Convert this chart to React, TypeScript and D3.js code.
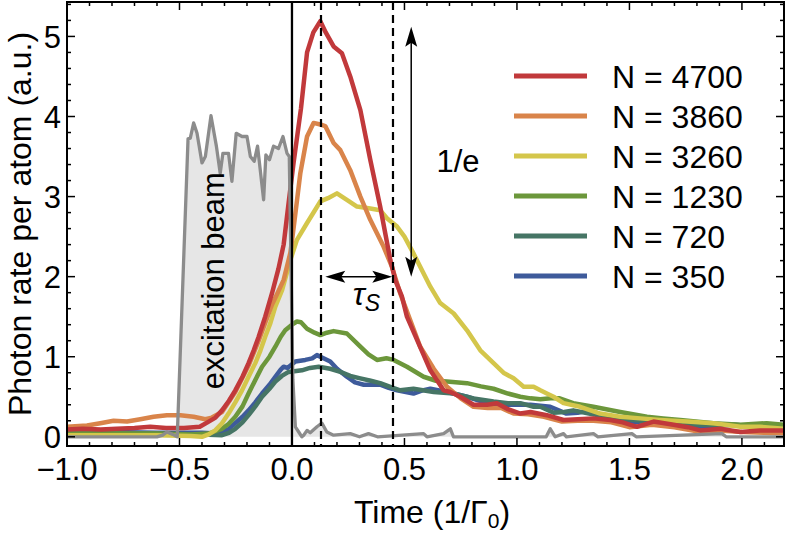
import React from "react";
import * as d3 from "d3";

// ---------- data ----------
const xTicksMajor = [-1.0, -0.5, 0.0, 0.5, 1.0, 1.5, 2.0];
const yTicksMajor = [0, 1, 2, 3, 4, 5];

const seriesNames = ["N = 4700", "N = 3860", "N = 3260", "N = 1230", "N = 720", "N = 350"];
const seriesColors = ["#c1393b", "#d9844a", "#d4c64b", "#6c973b", "#467565", "#3e5b9b"];

const n4700: [number, number][] = [
  [-1.0, 0.09], [-0.93, 0.1], [-0.85, 0.09], [-0.78, 0.1], [-0.7, 0.11], [-0.63, 0.125], [-0.56, 0.11],
  [-0.48, 0.11], [-0.41, 0.125], [-0.37, 0.19], [-0.34, 0.24], [-0.311, 0.33], [-0.28, 0.45], [-0.252, 0.58],
  [-0.22, 0.75], [-0.193, 0.92], [-0.17, 1.08], [-0.148, 1.25], [-0.119, 1.5], [-0.089, 1.79], [-0.06, 2.1],
  [-0.037, 2.4], [-0.015, 2.92], [0.007, 3.42], [0.04, 4.1], [0.067, 4.8], [0.095, 5.05], [0.126, 5.19],
  [0.15, 5.05], [0.185, 4.875], [0.222, 4.79], [0.259, 4.5], [0.304, 4.08], [0.348, 3.46], [0.392, 2.875],
  [0.437, 2.21], [0.46, 1.95], [0.489, 1.75], [0.511, 1.5], [0.556, 1.21], [0.615, 0.83], [0.674, 0.58],
  [0.704, 0.56], [0.748, 0.5], [0.807, 0.4], [0.867, 0.4], [0.911, 0.42], [0.956, 0.35], [1.015, 0.29],
  [1.06, 0.31], [1.133, 0.27], [1.207, 0.21], [1.27, 0.22], [1.34, 0.23], [1.415, 0.21], [1.47, 0.18],
  [1.533, 0.125], [1.607, 0.19], [1.696, 0.15], [1.76, 0.12], [1.815, 0.08], [1.904, 0.1], [1.993, 0.06],
  [2.08, 0.08], [2.19, 0.08],
];

const n3860: [number, number][] = [
  [-1.0, 0.125], [-0.911, 0.14], [-0.852, 0.17], [-0.793, 0.2], [-0.733, 0.19], [-0.674, 0.22], [-0.615, 0.25],
  [-0.556, 0.27], [-0.496, 0.27], [-0.437, 0.25], [-0.385, 0.22], [-0.356, 0.24], [-0.311, 0.31], [-0.252, 0.56],
  [-0.193, 0.89], [-0.148, 1.2], [-0.119, 1.42], [-0.089, 1.65], [-0.06, 1.82], [-0.037, 1.96], [-0.007, 2.3],
  [0.01, 2.67], [0.037, 3.29], [0.067, 3.75], [0.096, 3.92], [0.126, 3.9], [0.148, 3.88], [0.185, 3.67],
  [0.215, 3.58], [0.259, 3.33], [0.304, 3.0], [0.348, 2.71], [0.407, 2.375], [0.444, 2.125], [0.48, 1.8],
  [0.52, 1.5], [0.57, 1.125], [0.63, 0.85], [0.689, 0.625], [0.75, 0.48], [0.807, 0.375], [0.87, 0.36],
  [0.93, 0.36], [0.985, 0.29], [1.05, 0.28], [1.12, 0.25], [1.2, 0.19], [1.27, 0.2], [1.34, 0.2],
  [1.42, 0.18], [1.5, 0.12], [1.6, 0.15], [1.7, 0.12], [1.8, 0.07], [1.9, 0.08], [2.0, 0.06], [2.1, 0.05],
  [2.19, 0.04],
];

const n3260: [number, number][] = [
  [-1.0, 0.02], [-0.8, 0.02], [-0.6, 0.02], [-0.45, 0.01], [-0.4, 0.0], [-0.37, 0.03], [-0.341, 0.08],
  [-0.311, 0.17], [-0.282, 0.29], [-0.252, 0.43], [-0.222, 0.58], [-0.193, 0.75], [-0.163, 0.92], [-0.14, 1.08],
  [-0.119, 1.25], [-0.096, 1.42], [-0.074, 1.625], [-0.044, 1.83], [-0.007, 2.21], [0.022, 2.46], [0.067, 2.67],
  [0.1, 2.82], [0.126, 2.94], [0.16, 2.98], [0.2, 3.04], [0.244, 2.96], [0.289, 2.875], [0.348, 2.85],
  [0.392, 2.83], [0.422, 2.73], [0.467, 2.625], [0.5, 2.5], [0.54, 2.29], [0.615, 1.875], [0.659, 1.67],
  [0.719, 1.54], [0.778, 1.33], [0.837, 1.08], [0.896, 0.92], [0.94, 0.8], [0.985, 0.73], [1.03, 0.625],
  [1.074, 0.625], [1.104, 0.58], [1.133, 0.54], [1.163, 0.5], [1.207, 0.42], [1.281, 0.375], [1.37, 0.29],
  [1.459, 0.25], [1.548, 0.23], [1.637, 0.21], [1.756, 0.19], [1.874, 0.17], [1.993, 0.125], [2.08, 0.125],
  [2.19, 0.1],
];

const n1230: [number, number][] = [
  [-1.0, 0.04], [-0.8, 0.04], [-0.6, 0.04], [-0.45, 0.03], [-0.37, 0.04], [-0.311, 0.1], [-0.282, 0.16],
  [-0.252, 0.25], [-0.22, 0.38], [-0.193, 0.54], [-0.163, 0.71], [-0.133, 0.875], [-0.1, 1.0], [-0.074, 1.125],
  [-0.05, 1.25], [-0.03, 1.33], [0.0, 1.4], [0.022, 1.44], [0.04, 1.43], [0.067, 1.35], [0.1, 1.3],
  [0.126, 1.27], [0.155, 1.3], [0.185, 1.32], [0.244, 1.29], [0.304, 1.125], [0.34, 1.03], [0.378, 0.96],
  [0.42, 0.98], [0.452, 0.96], [0.511, 0.875], [0.585, 0.75], [0.64, 0.7], [0.689, 0.69], [0.778, 0.67],
  [0.84, 0.63], [0.896, 0.6], [0.96, 0.54], [1.015, 0.5], [1.06, 0.48], [1.104, 0.47], [1.15, 0.48],
  [1.19, 0.48], [1.25, 0.42], [1.34, 0.375], [1.459, 0.31], [1.578, 0.25], [1.65, 0.23], [1.726, 0.21],
  [1.874, 0.17], [1.993, 0.15], [2.11, 0.17], [2.19, 0.15],
];

const n720: [number, number][] = [
  [-1.0, 0.04], [-0.8, 0.04], [-0.6, 0.04], [-0.4, 0.03], [-0.311, 0.02], [-0.28, 0.05], [-0.252, 0.1],
  [-0.22, 0.18], [-0.193, 0.27], [-0.163, 0.38], [-0.133, 0.5], [-0.1, 0.6], [-0.074, 0.69], [-0.045, 0.76],
  [-0.015, 0.81], [0.044, 0.83], [0.08, 0.86], [0.119, 0.875], [0.17, 0.85], [0.215, 0.81], [0.259, 0.76],
  [0.304, 0.73], [0.35, 0.7], [0.392, 0.67], [0.44, 0.62], [0.481, 0.58], [0.54, 0.6], [0.63, 0.56],
  [0.719, 0.54], [0.807, 0.48], [0.896, 0.44], [0.96, 0.42], [1.015, 0.42], [1.074, 0.375], [1.104, 0.375],
  [1.163, 0.3], [1.21, 0.31], [1.25, 0.33], [1.32, 0.29], [1.4, 0.25], [1.52, 0.21], [1.667, 0.17],
  [1.815, 0.15], [1.963, 0.15], [2.08, 0.13], [2.19, 0.125],
];

const n350: [number, number][] = [
  [-1.0, 0.06], [-0.8, 0.06], [-0.6, 0.05], [-0.4, 0.05], [-0.341, 0.04], [-0.311, 0.06], [-0.28, 0.1],
  [-0.252, 0.17], [-0.22, 0.25], [-0.193, 0.33], [-0.163, 0.43], [-0.133, 0.54], [-0.1, 0.65], [-0.074, 0.75],
  [-0.05, 0.84], [-0.037, 0.875], [-0.02, 0.86], [0.015, 0.94], [0.059, 0.96], [0.09, 0.98], [0.111, 1.02],
  [0.14, 0.98], [0.17, 0.94], [0.2, 0.85], [0.244, 0.75], [0.28, 0.68], [0.319, 0.65], [0.392, 0.65],
  [0.43, 0.61], [0.467, 0.58], [0.54, 0.54], [0.58, 0.58], [0.615, 0.6], [0.689, 0.56], [0.778, 0.5],
  [0.867, 0.42], [0.926, 0.4], [0.985, 0.4], [1.06, 0.4], [1.148, 0.375], [1.22, 0.29], [1.27, 0.3],
  [1.326, 0.33], [1.415, 0.23], [1.519, 0.17], [1.667, 0.15], [1.815, 0.125], [1.963, 0.15], [2.08, 0.125],
  [2.19, 0.1],
];

const beam: [number, number][] = [
  [-1.0, 0.0], [-0.6, 0.0], [-0.575, 0.02], [-0.556, 0.06], [-0.53, 0.03], [-0.51, 0.0], [-0.462, 3.72],
  [-0.452, 3.73], [-0.437, 3.92], [-0.422, 3.79], [-0.4, 3.42], [-0.385, 3.5], [-0.36, 4.01], [-0.336, 3.63],
  [-0.319, 3.29], [-0.307, 3.54], [-0.282, 3.54], [-0.267, 3.19], [-0.248, 3.79], [-0.222, 3.75], [-0.2, 3.75],
  [-0.185, 3.5], [-0.168, 3.44], [-0.153, 3.63], [-0.126, 2.96], [-0.116, 3.52], [-0.1, 3.46], [-0.082, 3.63],
  [-0.06, 3.6], [-0.04, 3.75], [-0.022, 3.54], [-0.012, 3.5], [0.004, 0.71], [0.015, 0.125], [0.03, 0.06],
  [0.044, 0.0], [0.052, 0.02], [0.067, 0.08], [0.081, 0.05], [0.111, 0.125], [0.133, 0.17], [0.155, 0.06],
  [0.185, 0.02], [0.259, 0.04], [0.3, 0.0], [0.34, 0.04], [0.38, 0.0], [0.585, 0.04], [0.6, 0.0],
  [0.674, 0.04], [0.704, 0.1], [0.718, 0.0], [1.13, 0.0], [1.148, 0.1], [1.17, 0.0], [1.207, 0.04],
  [1.22, 0.0], [1.34, 0.04], [1.36, 0.0], [1.511, 0.04], [1.53, 0.0], [1.911, 0.04], [1.93, 0.0], [2.19, 0.0],
];

// draw order: last one on top
const seriesData = [n4700, n3860, n3260, n1230, n720, n350];
const drawOrder = [5, 4, 3, 2, 1, 0];

const dashedTimes = [0.129, 0.449];
const decayArrowX = 0.53;
const decayArrowY = [5.12, 2.0];
const tauArrowY = 2.0;
const tauArrowX = [0.148, 0.446];

// ---------- layout ----------
const W = 789;
const H = 533;
const FONT = "'Liberation Sans', Arial, Helvetica, sans-serif";

export default function App() {
  const x = d3.scaleLinear().domain([-1.0, 2.187]).range([67, 784]);
  const y = d3.scaleLinear().domain([-0.115, 5.43]).range([446, 2]);
  const [x0, x1] = x.range();
  const [y0, y1] = y.range();

  const line = d3
    .line<[number, number]>()
    .x((d) => x(d[0]))
    .y((d) => y(d[1]))
    .curve(d3.curveLinear);
  const area = d3
    .area<[number, number]>()
    .x((d) => x(d[0]))
    .y0(() => y(0))
    .y1((d) => y(d[1]));

  const xMinor = d3.range(-1.0, 2.19, 0.1).map((v) => Math.round(v * 10) / 10);
  const yMinor = d3.range(0, 5.41, 0.2).map((v) => Math.round(v * 10) / 10);
  const fmtX = d3.format(".1f");

  const isMajorX = (v: number) => xTicksMajor.some((m) => Math.abs(m - v) < 1e-6);
  const isMajorY = (v: number) => yTicksMajor.some((m) => Math.abs(m - v) < 1e-6);

  const head = (tx: number, ty: number, dir: "up" | "down" | "left" | "right", len = 20, half = 6) => {
    let pts: number[][] = [];
    if (dir === "up") pts = [[tx, ty], [tx - half, ty + len], [tx, ty + len - 4], [tx + half, ty + len]];
    if (dir === "down") pts = [[tx, ty], [tx - half, ty - len], [tx, ty - len + 4], [tx + half, ty - len]];
    if (dir === "left") pts = [[tx, ty], [tx + len, ty - half], [tx + len - 4, ty], [tx + len, ty + half]];
    if (dir === "right") pts = [[tx, ty], [tx - len, ty - half], [tx - len + 4, ty], [tx - len, ty + half]];
    return "M" + pts.map((p) => p.join(",")).join("L") + "Z";
  };

  return (
    <svg
      width={W}
      height={H}
      viewBox={`0 0 ${W} ${H}`}
      style={{ position: "absolute", left: 0, top: 0, background: "#fff" }}
      fontFamily={FONT}
    >
      <defs>
        <clipPath id="plotclip">
          <rect x={x0} y={y1} width={x1 - x0} height={y0 - y1} />
        </clipPath>
      </defs>

      <g clipPath="url(#plotclip)">
        {/* excitation beam */}
        <path d={area(beam) || ""} fill="#e6e6e6" stroke="none" />

        {drawOrder.map((i) => (
          <path
            key={i}
            d={line(seriesData[i]) || ""}
            fill="none"
            stroke={seriesColors[i]}
            strokeWidth={4.5}
            strokeLinejoin="round"
            strokeLinecap="round"
          />
        ))}
        <path d={line(beam) || ""} fill="none" stroke="#8c8c8c" strokeWidth={3.3} strokeLinejoin="round" />

        {/* t = 0 line */}
        <line x1={x(0)} x2={x(0)} y1={y1} y2={y0} stroke="#000" strokeWidth={2.3} />
        {dashedTimes.map((t, i) => (
          <line key={i} x1={x(t)} x2={x(t)} y1={y1} y2={y0} stroke="#000" strokeWidth={2.2} strokeDasharray="8,5" />
        ))}
      </g>

      {/* excitation beam label */}
      <text
        transform={`translate(${x(-0.3)},${y(1.95)}) rotate(-90)`}
        textAnchor="middle"
        fontSize={31}
        fill="#000"
      >
        excitation beam
      </text>

      {/* 1/e arrow */}
      <line x1={x(decayArrowX)} x2={x(decayArrowX)} y1={y(decayArrowY[0]) + 10} y2={y(decayArrowY[1]) - 10} stroke="#000" strokeWidth={1.5} />
      <path d={head(x(decayArrowX), y(decayArrowY[0]), "up")} fill="#000" />
      <path d={head(x(decayArrowX), y(decayArrowY[1]), "down")} fill="#000" />
      <text x={x(0.738)} y={y(3.31)} textAnchor="middle" fontSize={31}>
        1/e
      </text>

      {/* tau arrow */}
      <line x1={x(tauArrowX[0]) + 10} x2={x(tauArrowX[1]) - 10} y1={y(tauArrowY)} y2={y(tauArrowY)} stroke="#000" strokeWidth={1.5} />
      <path d={head(x(tauArrowX[0]), y(tauArrowY), "left")} fill="#000" />
      <path d={head(x(tauArrowX[1]), y(tauArrowY), "right")} fill="#000" />
      <text x={x(0.27)} y={y(1.65)} fontSize={32} fontStyle="italic">
        τ<tspan fontSize={23} dy={6}>S</tspan>
      </text>

      {/* legend */}
      {seriesNames.map((name, i) => (
        <g key={name}>
          <line x1={514} x2={587} y1={76 + i * 40} y2={76 + i * 40} stroke={seriesColors[i]} strokeWidth={5} />
          <text x={612} y={76 + i * 40 + 11.5} fontSize={32}>
            {name}
          </text>
        </g>
      ))}

      {/* frame */}
      <rect x={x0} y={y1} width={x1 - x0} height={y0 - y1} fill="none" stroke="#000" strokeWidth={2} />

      {/* x ticks */}
      {xMinor.map((v) => {
        const len = isMajorX(v) ? 8 : 4;
        return (
          <g key={"xt" + v}>
            <line x1={x(v)} x2={x(v)} y1={y0} y2={y0 - len} stroke="#000" strokeWidth={1.5} />
            <line x1={x(v)} x2={x(v)} y1={y1} y2={y1 + len} stroke="#000" strokeWidth={1.5} />
          </g>
        );
      })}
      {xTicksMajor.map((v) => (
        <text key={"xl" + v} x={x(v)} y={480} textAnchor="middle" fontSize={31}>
          {fmtX(v)}
        </text>
      ))}

      {/* y ticks */}
      {yMinor.map((v) => {
        const len = isMajorY(v) ? 8 : 4;
        return (
          <g key={"yt" + v}>
            <line x1={x0} x2={x0 + len} y1={y(v)} y2={y(v)} stroke="#000" strokeWidth={1.5} />
            <line x1={x1} x2={x1 - len} y1={y(v)} y2={y(v)} stroke="#000" strokeWidth={1.5} />
          </g>
        );
      })}
      {yTicksMajor.map((v) => (
        <text key={"yl" + v} x={61} y={y(v)} dy="0.36em" textAnchor="end" fontSize={31}>
          {v}
        </text>
      ))}

      {/* axis titles */}
      <text x={432} y={523} textAnchor="middle" fontSize={32}>
        Time (1/Γ<tspan fontSize={21} dy={5}>0</tspan>
        <tspan dy={-5}>)</tspan>
      </text>
      <text transform={`translate(31,${(y0 + y1) / 2}) rotate(-90)`} textAnchor="middle" fontSize={32}>
        Photon rate per atom (a.u.)
      </text>
    </svg>
  );
}
